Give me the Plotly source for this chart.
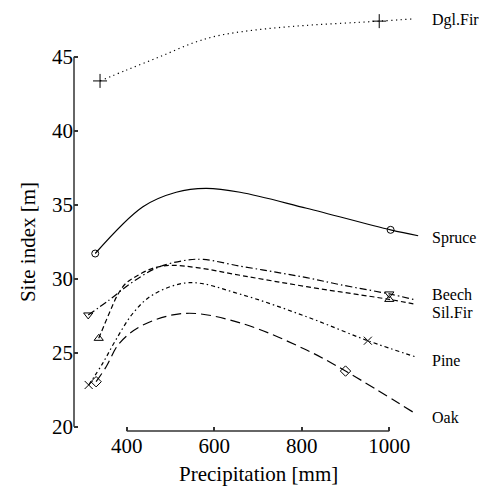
import plotly.graph_objects as go

# ---- data ----
dgl_x = [339, 400, 476, 552, 606, 666, 781, 977, 1054]
dgl_y = [43.36, 44.1, 45.0, 45.93, 46.4, 46.7, 47.05, 47.4, 47.55]
dgl_mx = [339, 977]
dgl_my = [43.36, 47.4]

spruce_x = [328, 437, 513, 581, 659, 811, 1003, 1066]
spruce_y = [31.7, 34.86, 35.84, 36.1, 35.84, 34.76, 33.3, 32.9]
spruce_mx = [328, 1003]
spruce_my = [31.7, 33.3]

beech_x = [312, 360, 410, 470, 536, 575, 659, 735, 811, 887, 1000, 1055]
beech_y = [27.55, 28.56, 29.7, 30.75, 31.25, 31.3, 30.85, 30.47, 30.07, 29.6, 28.97, 28.6]
beech_mx = [312, 1000]
beech_my = [27.55, 28.97]

silfir_x = [336, 360, 379, 398, 421, 459, 500, 560, 665, 811, 1000, 1055]
silfir_y = [25.97, 27.66, 28.9, 29.69, 30.15, 30.7, 30.9, 30.75, 30.2, 29.46, 28.6, 28.3]
silfir_mx = [336, 1000]
silfir_my = [25.97, 28.6]

pine_x = [313, 345, 375, 414, 459, 543, 662, 811, 951, 1059]
pine_y = [22.82, 24.28, 25.86, 27.66, 28.9, 29.73, 28.93, 27.43, 25.81, 24.73]
pine_mx = [313, 951]
pine_my = [22.82, 25.81]

oak_x = [330, 353, 383, 437, 535, 662, 811, 900, 1059]
oak_y = [23.04, 24.05, 25.63, 26.87, 27.66, 26.99, 25.18, 23.76, 20.9]
oak_mx = [330, 900]
oak_my = [23.04, 23.76]

labels = ["Dgl.Fir", "Spruce", "Beech", "Sil.Fir", "Pine", "Oak"]
label_y = [47.5, 32.75, 28.95, 27.7, 24.5, 20.6]

x_ticks = [400, 600, 800, 1000]
y_ticks = [20, 25, 30, 35, 40, 45]

FONT = "Liberation Serif, Times New Roman, serif"

series = [
    (dgl_x, dgl_y, dgl_mx, dgl_my, "1.2px,3.5px", "cross-thin-open", 10),
    (spruce_x, spruce_y, spruce_mx, spruce_my, "solid", "circle-open", 7),
    (beech_x, beech_y, beech_mx, beech_my, "7px,3px,1.5px,3px", "triangle-down-open", 8),
    (silfir_x, silfir_y, silfir_mx, silfir_my, "5px,3px", "triangle-up-open", 8),
    (pine_x, pine_y, pine_mx, pine_my, "4px,3px,1.5px,3px", "x-thin-open", 8),
    (oak_x, oak_y, oak_mx, oak_my, "10px,5px", "diamond-open", 8),
]

fig = go.Figure()
for xs, ys, mx, my, dash, sym, sz in series:
    fig.add_trace(go.Scatter(x=xs, y=ys, mode="lines",
                             line=dict(color="black", width=1.2, dash=dash,
                                       shape="spline", smoothing=1.0),
                             hoverinfo="skip", showlegend=False, cliponaxis=False))
    fig.add_trace(go.Scatter(x=mx, y=my, mode="markers",
                             marker=dict(symbol=sym, size=sz, color="black",
                                         line=dict(color="black", width=1)),
                             showlegend=False, cliponaxis=False))

for name, ly in zip(labels, label_y):
    fig.add_annotation(x=1093, y=ly, xref="x", yref="y", text=name,
                       showarrow=False, xanchor="left", yanchor="middle",
                       font=dict(family=FONT, size=16, color="black"))

# range-frame axis lines
fig.add_shape(type="line", xref="paper", yref="y", x0=0, x1=0,
              y0=min(y_ticks), y1=max(y_ticks), line=dict(color="#333", width=1.5))
fig.add_shape(type="line", xref="x", yref="paper", x0=min(x_ticks), x1=max(x_ticks),
              y0=0, y1=0, line=dict(color="#333", width=1.5))

fig.add_annotation(x=-0.115, y=32.5, xref="paper", yref="y", text="Site index [m]",
                   textangle=-90, showarrow=False, xanchor="center", yanchor="middle",
                   font=dict(family=FONT, size=21, color="black"))
fig.add_annotation(x=700, y=-0.1, xref="x", yref="paper", text="Precipitation [mm]",
                   showarrow=False, xanchor="center", yanchor="middle",
                   font=dict(family=FONT, size=21, color="black"))

fig.update_xaxes(range=[279.5, 1205], tickvals=x_ticks, ticks="inside", ticklen=4,
                 tickcolor="#333", tickwidth=1.5, showline=False, showgrid=False,
                 zeroline=False, tickfont=dict(family=FONT, size=21, color="black"))
fig.update_yaxes(range=[19.71, 48.49], tickvals=y_ticks, ticks="inside", ticklen=4,
                 tickcolor="#333", tickwidth=1.5, showline=False, showgrid=False,
                 zeroline=False, tickfont=dict(family=FONT, size=21, color="black"))

fig.update_layout(width=489, height=488, margin=dict(l=74, r=10, t=5, b=57),
                  paper_bgcolor="white", plot_bgcolor="white")

fig.write_html("out.html", config={"displayModeBar": False},
               post_script="document.body.style.margin='0px';")
